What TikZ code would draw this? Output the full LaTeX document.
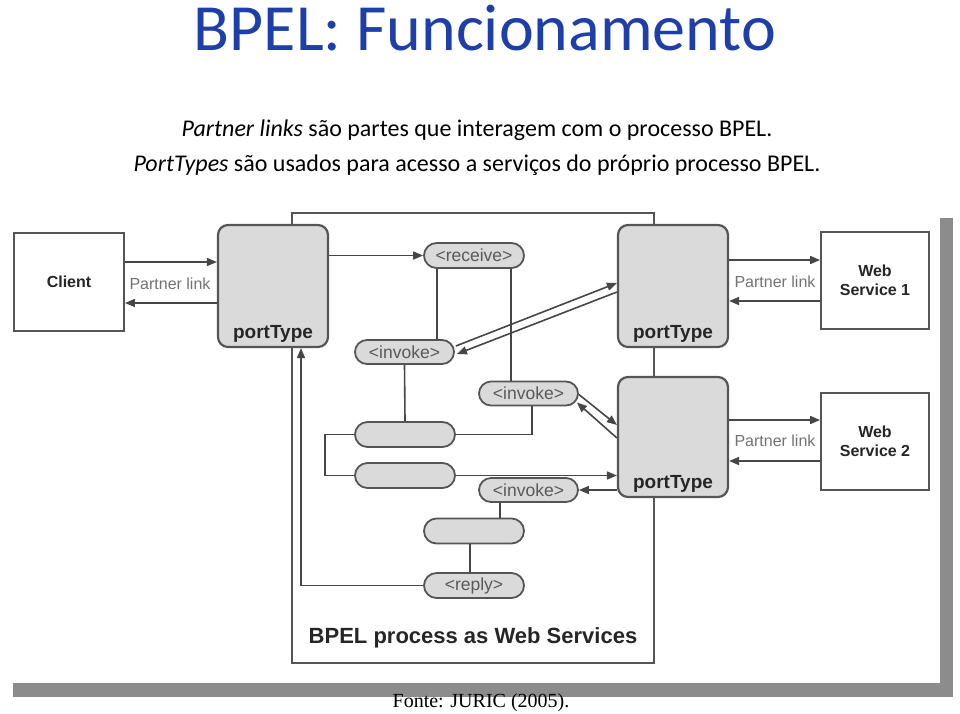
\documentclass[tikz,border=0pt]{standalone}
\usepackage{fontspec}
\setmainfont{Carlito}
\newfontfamily\arialf{Liberation Sans}
\newfontfamily\timesf{Liberation Serif}
\usetikzlibrary{arrows.meta,shapes.misc,calc}
\definecolor{titleblue}{RGB}{30,62,170}
\definecolor{boxfill}{RGB}{218,218,218}
\definecolor{edge}{RGB}{85,85,85}
\definecolor{linec}{RGB}{70,70,70}
\definecolor{shadowc}{RGB}{140,140,140}
\definecolor{plink}{RGB}{115,115,115}
\tikzset{
 whitebox/.style={draw=edge, line width=1.8pt, fill=white, minimum width=110pt, minimum height=98pt, inner sep=0pt, font=\arialf\bfseries\fontsize{16}{19}\selectfont, align=center, text=black!85},
 portbox/.style={draw=edge, line width=2.2pt, fill=boxfill, rounded corners=10pt, minimum width=110pt, minimum height=122pt, inner sep=0pt},
 ptlabel/.style={font=\arialf\bfseries\fontsize{19}{21}\selectfont, text=black!85, anchor=base, yshift=10pt},
 pill/.style={rounded rectangle, draw=edge, line width=1.8pt, fill=boxfill, minimum width=100pt, minimum height=25pt, inner sep=0pt, font=\arialf\fontsize{17.5}{19}\selectfont, text=black!65},
 conn/.style={draw=linec, line width=1.6pt},
 arr/.style={conn, -{Triangle[length=10pt,width=8pt]}},
 plinktext/.style={font=\arialf\fontsize{16}{18}\selectfont, text=plink},
}
\begin{document}
\begin{tikzpicture}[x=1pt,y=-1pt]
\useasboundingbox (0,0) rectangle (960,713);
% shadow and image area
\fill[shadowc] (13,218) rectangle (953,697);
\fill[white] (0,205) rectangle (940,683);
% texts
\node[font=\fontsize{66}{76}\selectfont, text=titleblue] (title) at (485,28) {BPEL: Funcionamento};
\node[font=\fontsize{24}{28}\selectfont] (l1) at (477,130) {\textit{Partner links} são partes que interagem com o processo BPEL.};
\node[font=\fontsize{24}{28}\selectfont] (l2) at (477,165) {\textit{PortTypes} são usados para acesso a serviços do próprio processo BPEL.};
\node[font=\timesf\fontsize{20}{22}\selectfont] (fonte) at (481,703) {Fonte: JURIC (2005).};
% frame
\node[draw=edge, line width=1.6pt, minimum width=362pt, minimum height=450pt, inner sep=0pt,
  label={[font=\arialf\bfseries\fontsize{22}{24}\selectfont, text=black!85, anchor=base, yshift=20pt]south:BPEL process as Web Services}] (frame) at (473,438) {};
% boxes
\node[whitebox] (client) at (69,282) {Client};
\node[whitebox, minimum width=108pt, minimum height=97pt] (ws1) at (875,280.5) {Web\\Service 1};
\node[whitebox, minimum width=108pt, minimum height=97pt] (ws2) at (875,441.5) {Web\\Service 2};
\node[portbox, label={[ptlabel]south:portType}] (pt1) at (273,286) {};
\node[portbox, label={[ptlabel]south:portType}] (pt2) at (673,286) {};
\node[portbox, minimum height=120pt, label={[ptlabel]south:portType}] (pt3) at (673,437) {};
% pills
\node[pill] (receive) at (474,255.5) {<receive>};
\node[pill, minimum width=99pt, minimum height=24pt] (invoke1) at (404.5,352) {<invoke>};
\node[pill, minimum width=99pt, minimum height=24pt] (invoke2) at (528.5,393.5) {<invoke>};
\node[pill] (pillA) at (405,434.5) {};
\node[pill] (pillB) at (405,475.5) {};
\node[pill, minimum width=99pt, minimum height=24pt] (invoke3) at (528.5,490) {<invoke>};
\node[pill] (pillC) at (474,531) {};
\node[pill] (reply) at (474,585.5) {<reply>};
% partner link labels
\node[plinktext] (pl1) at (170,284) {Partner link};
\node[plinktext] (pl2) at (775,282) {Partner link};
\node[plinktext] (pl3) at (775,441) {Partner link};
% connectors
\draw[arr] (client.east |- 0,262) -- (pt1.west |- 0,262);
\draw[arr] (pt1.west |- 0,303) -- (client.east |- 0,303);
\draw[arr] (pt1.east |- receive.west) -- (receive.west);
\draw[conn] (receive.south -| 437,0) -- (invoke1.north -| 437,0);
\draw[conn] (receive.south -| 511,0) -- (invoke2.north -| 511,0);
\draw[arr] ($(invoke1.east)+(1,-6)$) -- ($(pt2.west)+(0,-3)$);
\draw[arr] ($(pt2.west)+(0,6)$) -- ($(invoke1.east)+(2,2)$);
\draw[conn] (invoke1.south) -- (pillA.north);
\draw[conn] (pillA.west) -- ++(-29,0) |- (pillB.west);
\draw[conn] (pillA.east) -| (invoke2.south -| 532,0);
\draw[arr] ($(invoke2.east)+(0,1)$) -- ($(pt3.west)+(0,-12)$);
\draw[arr] ($(pt3.west)+(0,1)$) -- ($(invoke2.east)+(-2,9)$);
\draw[arr] (pillB.east) -- (pillB.east -| pt3.west);
\draw[arr] (pt3.west |- invoke3.east) -- (invoke3.east);
\draw[conn] (invoke3.south -| 500,0) -- (pillC.north -| 500,0);
\draw[conn] (pillC.south -| 470,0) -- (reply.north -| 470,0);
\draw[arr] (reply.west) -| (pt1.south -| 301,0);
\draw[arr] (pt2.east |- 0,260) -- (ws1.west |- 0,260);
\draw[arr] (ws1.west |- 0,301) -- (pt2.east |- 0,301);
\draw[arr] (pt3.east |- 0,420) -- (ws2.west |- 0,420);
\draw[arr] (ws2.west |- 0,461) -- (pt3.east |- 0,461);
\end{tikzpicture}
\end{document}
